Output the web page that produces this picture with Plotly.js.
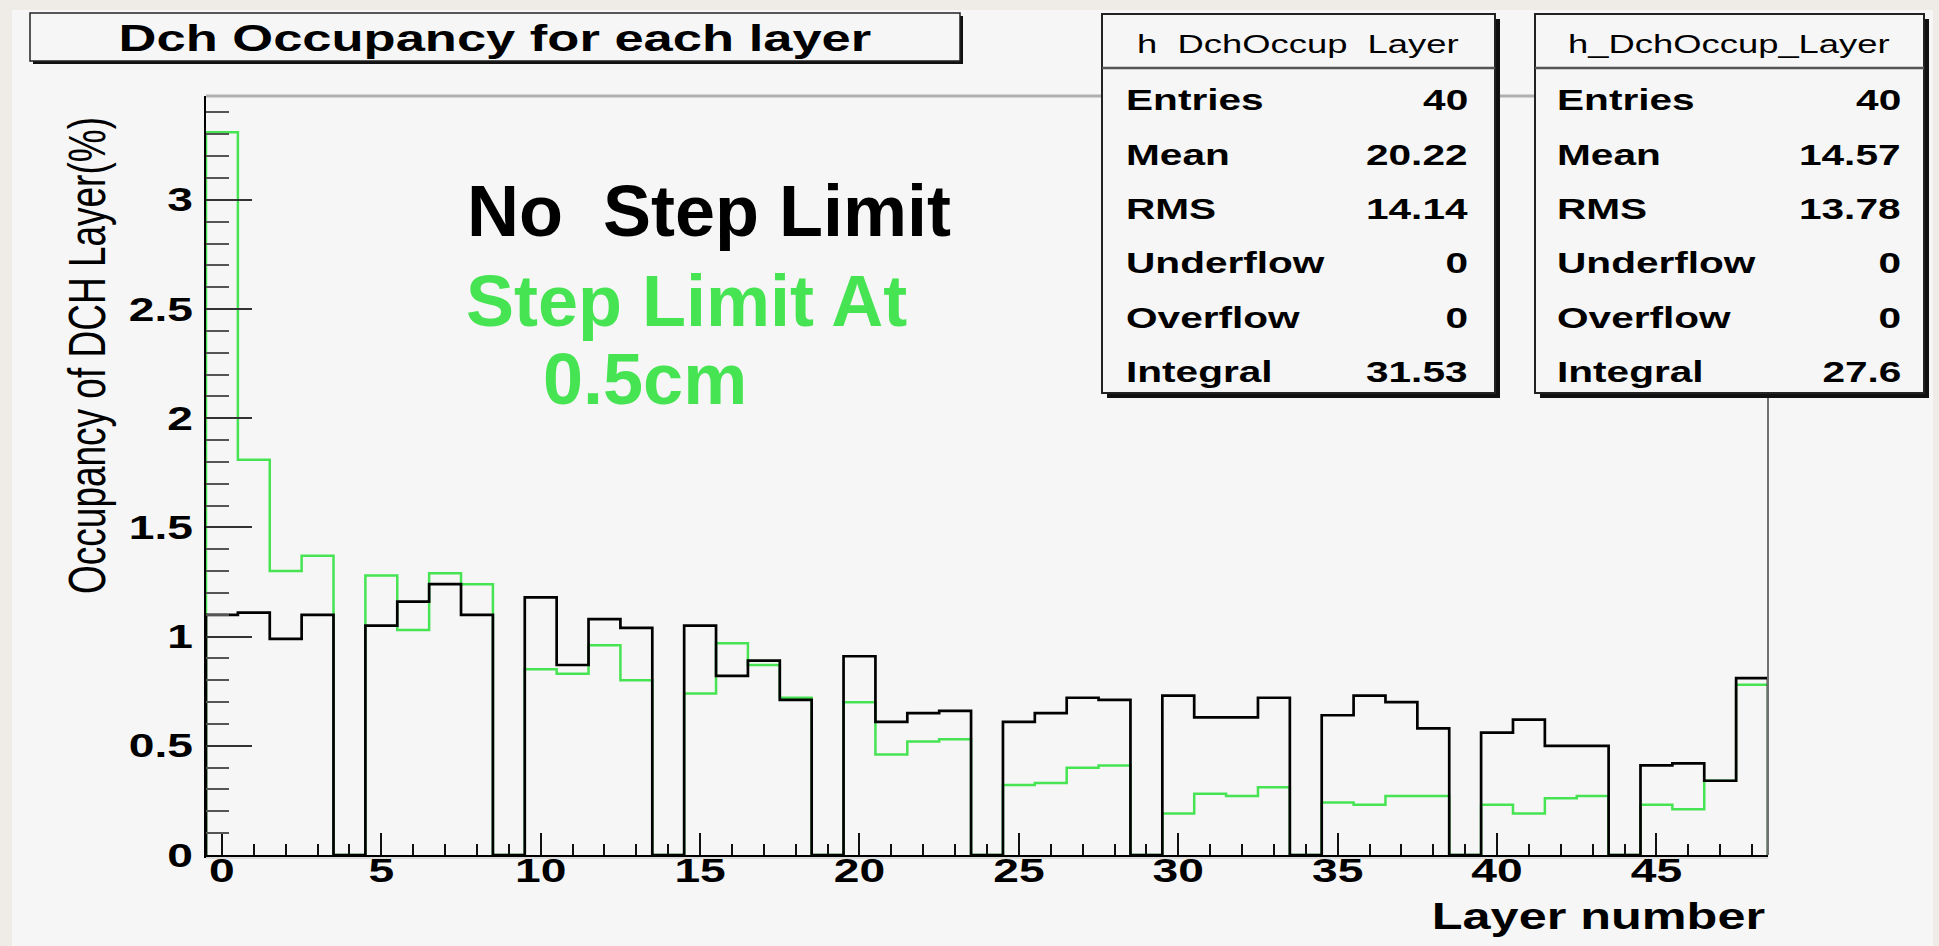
<!DOCTYPE html>
<html>
<head>
<meta charset="utf-8">
<script src="https://cdn.plot.ly/plotly-3.0.1.min.js"></script>
<style>
  html, body { margin: 0; padding: 0; background: #efece7; }
  #chart { width: 1939px; height: 946px; }
</style>
</head>
<body>
<div id="chart"></div>
<script>
// Layer numbers (bin centres) of the drift chamber
const layers = [0,1,2,3,4,5,6,7,8,9,10,11,12,13,14,15,16,17,18,19,20,21,22,23,24,
                25,26,27,28,29,30,31,32,33,34,35,36,37,38,39,40,41,42,43,44,45,46,47,48];

// Occupancy (%) per layer, no step limit (black)
const occNoLimit = [1.10,1.11,0.99,1.10,0, 1.05,1.16,1.24,1.10,0, 1.18,0.87,1.08,1.04,0,
                    1.05,0.82,0.89,0.71,0, 0.91,0.61,0.65,0.66,0, 0.61,0.65,0.72,0.71,0,
                    0.73,0.63,0.63,0.72,0, 0.64,0.73,0.70,0.58,0, 0.56,0.62,0.50,0.50,0,
                    0.41,0.42,0.34,0.81];

// Occupancy (%) per layer, step limit at 0.5 cm (green)
const occStepLimit = [3.31,1.81,1.30,1.37,0, 1.28,1.03,1.29,1.24,0, 0.85,0.83,0.96,0.80,0,
                      0.74,0.97,0.87,0.72,0, 0.70,0.46,0.52,0.53,0, 0.32,0.33,0.40,0.41,0,
                      0.19,0.28,0.27,0.31,0, 0.24,0.23,0.27,0.27,0, 0.23,0.19,0.26,0.27,0,
                      0.23,0.21,0.34,0.78];

// Statistics boxes
const statNames = ['Entries', 'Mean', 'RMS', 'Underflow', 'Overflow', 'Integral'];
const statsNoLimit = ['40', '20.22', '14.14', '0', '0', '31.53'];
const statsStepLimit = ['40', '14.57', '13.78', '0', '0', '27.6'];

const GREEN = '#46e352';
const FONT = 'Liberation Sans, Arial, Helvetica, sans-serif';

// Canvas geometry (pixels) and conversion to paper coordinates
const W = 1939, H = 946;
const PL = 206, PR = 1768, PT = 96, PB = 855;
const fx = X => (X - PL) / (PR - PL);
const fy = Y => (PB - Y) / (PB - PT);

// Histogram outline: steps across each unit-width bin, closed down to zero at both ends
function stepOutline(centres, values) {
  const xs = [centres[0] - 0.5], ys = [0];
  centres.forEach((c, i) => {
    xs.push(c - 0.5, c + 0.5);
    ys.push(values[i], values[i]);
  });
  xs.push(centres[centres.length - 1] + 0.5);
  ys.push(0);
  return { xs, ys };
}

const g = stepOutline(layers, occStepLimit);
const b = stepOutline(layers, occNoLimit);

const traces = [
  { x: g.xs, y: g.ys, type: 'scatter', mode: 'lines', name: 'Step Limit At 0.5cm',
    line: { color: GREEN, width: 2.5 }, hoverinfo: 'skip', showlegend: false },
  { x: b.xs, y: b.ys, type: 'scatter', mode: 'lines', name: 'No Step Limit',
    line: { color: '#000000', width: 2.7 }, hoverinfo: 'skip', showlegend: false }
];

const yMax = 1.05 * Math.max(...occStepLimit, ...occNoLimit);

// Rectangles in pixel terms
function rect(x0, y0, x1, y1, fill, lineColor, lineWidth, layer) {
  return { type: 'rect', xref: 'paper', yref: 'paper',
           x0: fx(x0), x1: fx(x1), y0: fy(y1), y1: fy(y0),
           fillcolor: fill, line: { color: lineColor, width: lineWidth }, layer: layer || 'above' };
}
function seg(x0, y0, x1, y1, color, width) {
  return { type: 'line', xref: 'paper', yref: 'paper',
           x0: fx(x0), x1: fx(x1), y0: fy(y0), y1: fy(y1),
           line: { color: color, width: width }, layer: 'above' };
}

const shapes = [
  rect(12, 10, 1933, 946, '#f6f6f6', 'rgba(0,0,0,0)', 0, 'below'),
  // frame top and right
  seg(PL, PT, PR, PT, '#b0b0b0', 3),
  seg(PR, PT, PR, PB, '#707070', 2),
  // light rule under the x axis
  seg(PL, PB + 3, PR, PB + 3, '#dddddd', 2),
  // title box with shadow
  rect(33, 16, 963, 64, '#111111', '#111111', 0),
  rect(30, 13, 960, 61, '#f6f6f6', '#222222', 1.5),
  // statistics box 1
  rect(1107, 19, 1500, 398, '#111111', '#111111', 0),
  rect(1102, 14, 1495, 393, '#f6f6f6', '#222222', 2),
  seg(1102, 68, 1495, 68, '#555555', 2.5),
  // statistics box 2
  rect(1540, 19, 1929, 398, '#111111', '#111111', 0),
  rect(1535, 14, 1924, 393, '#f6f6f6', '#222222', 2),
  seg(1535, 68, 1924, 68, '#555555', 2.5)
];

// Annotations, each with the way its glyphs are widened afterwards
const annotations = [];
const widen = [];
function addText(text, X, Y, xanchor, font, mode, extra) {
  annotations.push(Object.assign({
    text: text, xref: 'paper', yref: 'paper', x: fx(X), y: fy(Y),
    xanchor: xanchor, yanchor: 'middle', showarrow: false, font: font
  }, extra || {}));
  widen.push(mode);
}

const bigBlack = { family: FONT, size: 72, weight: 'bold', color: '#000000' };
const bigGreen = { family: FONT, size: 72, weight: 'bold', color: GREEN };
addText('No\u00a0\u00a0Step Limit', 465, 211, 'left', bigBlack, null);
addText('Step Limit At', 464, 301, 'left', bigGreen, null);
addText('0.5cm', 541, 379, 'left', bigGreen, null);

const headFont = { family: FONT, size: 26, color: '#000000' };
const rowFont = { family: FONT, size: 29, weight: 'bold', color: '#000000' };
addText('h\u00a0\u00a0DchOccup\u00a0\u00a0Layer', 1298, 44, 'center', headFont, 'center');
addText('h_DchOccup_Layer', 1729, 44, 'center', headFont, 'center');

const rowY = [100, 155, 209, 263, 318, 372];
statNames.forEach((name, i) => {
  addText(name, 1124, rowY[i], 'left', rowFont, 'left');
  addText(statsNoLimit[i], 1470, rowY[i], 'right', rowFont, 'right');
  addText(name, 1555, rowY[i], 'left', rowFont, 'left');
  addText(statsStepLimit[i], 1903, rowY[i], 'right', rowFont, 'right');
});

addText('Layer number', 1767, 917, 'right',
        { family: FONT, size: 36, weight: 'bold', color: '#000000' }, 'right');
addText('Occupancy of DCH Layer(%)', 88, 356, 'center',
        { family: FONT, size: 37, color: '#000000' }, 'vertical', { textangle: -90 });

const tickFont = { family: FONT, size: 33, weight: 'bold', color: '#000000' };

const layout = {
  width: W, height: H, autosize: false,
  margin: { l: PL, r: W - PR, t: PT, b: H - PB, pad: 0 },
  paper_bgcolor: '#efece7',
  plot_bgcolor: 'rgba(0,0,0,0)',
  showlegend: false,
  title: {
    text: 'Dch Occupancy for each layer',
    font: { family: FONT, size: 37.5, weight: 'bold', color: '#000000' },
    xref: 'paper', x: fx(495), xanchor: 'center',
    yref: 'container', y: 1 - 38 / H, yanchor: 'middle'
  },
  xaxis: {
    range: [layers[0] - 0.5, layers[layers.length - 1] + 0.5],
    tickmode: 'linear', tick0: 0, dtick: 5,
    ticks: 'inside', ticklen: 22, tickwidth: 2, tickcolor: '#111111',
    minor: { dtick: 1, tick0: 0, ticks: 'inside', ticklen: 11, tickwidth: 2, tickcolor: '#111111', showgrid: false },
    showline: true, linecolor: '#000000', linewidth: 2.5,
    showgrid: false, zeroline: false, tickfont: tickFont, ticklabelstandoff: -15,
    fixedrange: true
  },
  yaxis: {
    range: [0, yMax],
    tickmode: 'linear', tick0: 0, dtick: 0.5,
    ticks: 'inside', ticklen: 46, tickwidth: 2, tickcolor: '#333333',
    minor: { dtick: 0.1, tick0: 0, ticks: 'inside', ticklen: 23, tickwidth: 2, tickcolor: '#555555', showgrid: false },
    showline: true, linecolor: '#000000', linewidth: 2.5,
    showgrid: false, zeroline: false, tickfont: tickFont, ticklabelstandoff: 4,
    fixedrange: true
  },
  shapes: shapes,
  annotations: annotations
};

// Horizontal widening of the canvas lettering around a pivot
const STRETCH = 1.4;
function stretchText(el, mode) {
  if (!el || !mode) return;
  const bb = el.getBBox();
  const t = el.getAttribute('transform') || '';
  if (mode === 'vertical') {
    const cy = bb.y + bb.height / 2;
    el.setAttribute('transform', t + ' translate(0,' + cy + ') scale(1,' + STRETCH + ') translate(0,' + (-cy) + ')');
  } else {
    const cx = mode === 'left' ? bb.x : mode === 'right' ? bb.x + bb.width : bb.x + bb.width / 2;
    el.setAttribute('transform', t + ' translate(' + cx + ',0) scale(' + STRETCH + ',1) translate(' + (-cx) + ',0)');
  }
}

Plotly.newPlot('chart', traces, layout, { displayModeBar: false, staticPlot: true }).then(gd => {
  gd.querySelectorAll('.annotation').forEach(a => {
    const idx = +a.getAttribute('data-index');
    stretchText(a.querySelector('text.annotation-text'), widen[idx]);
  });
  stretchText(gd.querySelector('.gtitle'), 'center');
  gd.querySelectorAll('.xtick text').forEach(t => stretchText(t, 'center'));
  gd.querySelectorAll('.ytick text').forEach(t => stretchText(t, 'right'));
});
</script>
</body>
</html>
